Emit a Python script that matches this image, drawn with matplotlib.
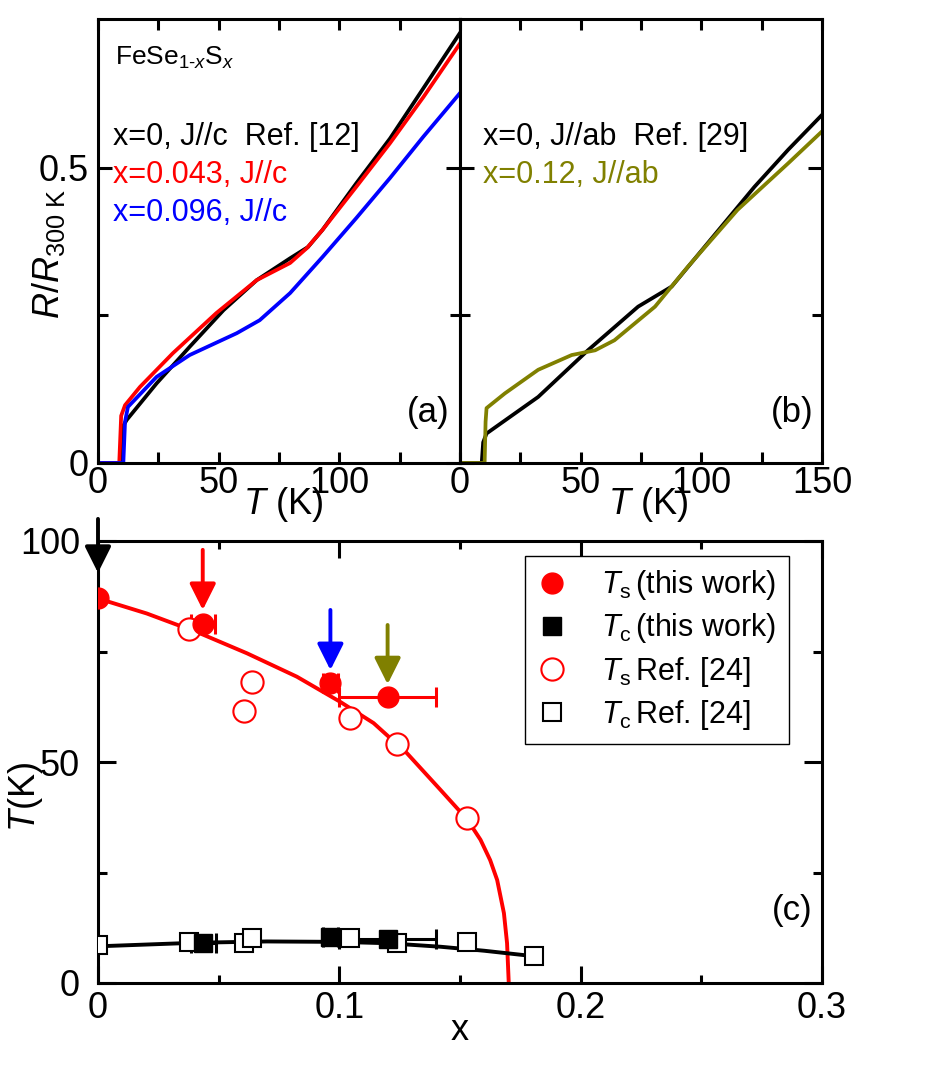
import matplotlib
matplotlib.use('Agg')
import matplotlib.pyplot as plt
from matplotlib.ticker import FixedLocator, FixedFormatter

plt.rcParams['font.family'] = ['Liberation Sans', 'DejaVu Sans']
plt.rcParams['mathtext.fontset'] = 'custom'
plt.rcParams['mathtext.rm'] = 'Liberation Sans'
plt.rcParams['mathtext.it'] = 'Liberation Sans:italic'
plt.rcParams['mathtext.bf'] = 'Liberation Sans:bold'

OLIVE = '#808000'

# ---- panel (a): R/R300K, J//c
T_a0 = [1.5, 9.2, 10.0, 11.9, 24.3, 38, 52, 65.8, 79.6, 87, 93, 107, 121, 134.8, 150]
R_a0 = [0, 0, 0.06, 0.073, 0.135, 0.197, 0.259, 0.310, 0.347, 0.366, 0.395, 0.474, 0.55, 0.635, 0.729]
T_a043 = [1.5, 8.8, 9.6, 11.2, 17.4, 31, 49, 65.8, 79.6, 86.5, 93, 107, 121, 134.8, 150]
R_a043 = [0, 0, 0.08, 0.098, 0.129, 0.186, 0.254, 0.310, 0.339, 0.364, 0.395, 0.468, 0.542, 0.62, 0.711]
T_a096 = [1.5, 10.5, 11.2, 12.4, 24.3, 38, 57.5, 67, 79.6, 93, 107, 121, 134.8, 150]
R_a096 = [0, 0, 0.07, 0.095, 0.146, 0.183, 0.22, 0.242, 0.288, 0.349, 0.415, 0.483, 0.553, 0.627]

# ---- panel (b): J//ab
T_b0 = [1.5, 9.0, 9.6, 11, 32.4, 53, 73.8, 87.7, 101.5, 122, 136, 150]
R_b0 = [0, 0, 0.035, 0.05, 0.112, 0.191, 0.265, 0.299, 0.367, 0.468, 0.531, 0.59]
T_b12 = [1.5, 10.2, 10.6, 11, 18.6, 32.4, 46.3, 56, 64, 80.8, 94.5, 115, 136, 150]
R_b12 = [0, 0, 0.07, 0.093, 0.118, 0.158, 0.183, 0.191, 0.208, 0.265, 0.333, 0.429, 0.508, 0.562]

# ---- panel (c): phase diagram
x_ts = [0, 0.0434, 0.0963, 0.12]
ts = [87, 81.2, 67.8, 64.6]
ts_xerr = [0, 0.005, 0.003, 0.02]
x_tc = [0.0437, 0.0963, 0.12]
tc = [9.1, 10.3, 9.9]
tc_xerr = [0.005, 0.003, 0.02]
x_ts_ref = [0.0378, 0.0607, 0.064, 0.1046, 0.124, 0.153]
ts_ref = [80.2, 61.6, 68, 59.9, 54.1, 37.3]
x_tc_ref = [0, 0.0378, 0.0607, 0.064, 0.1046, 0.124, 0.153, 0.1806]
tc_ref = [8.6, 9.35, 9.1, 10.1, 10.1, 9.0, 9.35, 6.1]
fit_ts_x = [0, 0.0202, 0.0423, 0.0617, 0.0824, 0.1004, 0.1142, 0.128, 0.1419, 0.153,
            0.1585, 0.1625, 0.1654, 0.1682, 0.1695, 0.1702]
fit_ts_T = [87, 83.6, 79.1, 74.6, 69.3, 63.6, 58.8, 52, 43.7, 37,
            32.4, 27.8, 23.3, 15.8, 9.0, 0]
fit_tc_x = [0, 0.04, 0.07, 0.1, 0.12, 0.142, 0.16, 0.18]
fit_tc_T = [8.3, 9.1, 9.4, 9.3, 9.0, 8.2, 7.3, 6.1]
arrow_x = [0, 0.0434, 0.0963, 0.12]
arrow_top = [105, 98, 84.4, 81]
arrow_tip = [92.8, 84.4, 70.8, 67.6]
arrow_col = ['black', 'red', 'blue', OLIVE]


def style_axes(ax, xpad, ypad, xlen, ylen):
    for s in ax.spines.values():
        s.set_linewidth(2.2)
    ax.tick_params(which='both', direction='in', top=True, right=True,
                   width=2.2, labelsize=26)
    ax.tick_params(axis='x', pad=xpad)
    ax.tick_params(axis='y', pad=ypad)
    ax.tick_params(axis='x', which='major', length=xlen[0])
    ax.tick_params(axis='x', which='minor', length=xlen[1])
    ax.tick_params(axis='y', which='major', length=ylen[0])
    ax.tick_params(axis='y', which='minor', length=ylen[1])


fig = plt.figure(figsize=(9.46, 10.65), dpi=100)
W, H = 946.0, 1065.0
axa = fig.add_axes([98 / W, 1 - 463 / H, 362 / W, 444 / H])
axb = fig.add_axes([460 / W, 1 - 463 / H, 362 / W, 444 / H])
axc = fig.add_axes([98 / W, 1 - 983 / H, 724 / W, 442 / H])

lw = 2.7
axa.plot(T_a0, R_a0, color='black', lw=lw)
axa.plot(T_a043, R_a043, color='red', lw=lw)
axa.plot(T_a096, R_a096, color='blue', lw=lw)
axb.plot(T_b0, R_b0, color='black', lw=lw)
axb.plot(T_b12, R_b12, color=OLIVE, lw=lw)

for ax in (axa, axb):
    ax.set_xlim(0, 150)
    ax.set_ylim(0, 0.7525)
    ax.xaxis.set_major_locator(FixedLocator([0, 50, 100, 150]))
    ax.xaxis.set_minor_locator(FixedLocator([25, 75, 125]))
    ax.yaxis.set_major_locator(FixedLocator([0, 0.5]))
    ax.yaxis.set_minor_locator(FixedLocator([0.25]))
    style_axes(ax, 2, 6.5, (8, 8), (10, 7))
    ax.set_xlabel(r'$T$ (K)', fontsize=26)

axa.xaxis.set_major_formatter(FixedFormatter(['0', '50', '100', '']))
axa.yaxis.set_major_formatter(FixedFormatter(['0', '0.5']))
axb.xaxis.set_major_formatter(FixedFormatter(['0', '50', '100', '150']))
axb.tick_params(axis='y', labelleft=False)
axa.xaxis.set_label_coords(0.51, -0.05)
axb.xaxis.set_label_coords(0.52, -0.05)
axa.set_ylabel(r'$R/R_{\mathrm{300\ K}}$', fontsize=26)
axa.yaxis.set_label_coords(-0.085, 0.47)

axa.text(0.047, 0.896, r'FeSe$_{\mathit{1\text{-}x}}$S$_{\mathit{x}}$', transform=axa.transAxes,
         fontsize=19, va='baseline')
axa.text(0.041, 0.716, 'x=0, J//c  Ref. [12]', transform=axa.transAxes, fontsize=22,
         va='baseline', color='black')
axa.text(0.041, 0.631, 'x=0.043, J//c', transform=axa.transAxes, fontsize=22,
         va='baseline', color='red')
axa.text(0.041, 0.545, 'x=0.096, J//c', transform=axa.transAxes, fontsize=22,
         va='baseline', color='blue')
axb.text(0.064, 0.716, 'x=0, J//ab  Ref. [29]', transform=axb.transAxes, fontsize=22,
         va='baseline', color='black')
axb.text(0.064, 0.631, 'x=0.12, J//ab', transform=axb.transAxes, fontsize=22,
         va='baseline', color=OLIVE)
axa.text(0.912, 0.113, '(a)', transform=axa.transAxes, fontsize=25, ha='center', va='center')
axb.text(0.917, 0.113, '(b)', transform=axb.transAxes, fontsize=25, ha='center', va='center')

# ---- panel (c)
axc.plot(fit_ts_x, fit_ts_T, color='red', lw=2.8, zorder=2)
axc.plot(fit_tc_x, fit_tc_T, color='black', lw=2.8, zorder=2)
axc.errorbar(x_ts, ts, xerr=ts_xerr, fmt='none', ecolor='red', elinewidth=2.2,
             capsize=7, capthick=2.2, zorder=3)
axc.errorbar(x_tc, tc, xerr=tc_xerr, fmt='none', ecolor='black', elinewidth=2.2,
             capsize=7, capthick=2.2, zorder=3)
axc.plot(x_ts, ts, 'o', color='red', ms=15, zorder=5, label=r'$T_{\mathrm{s}}\,$(this work)')
axc.plot(x_tc, tc, 's', color='black', ms=13, zorder=5, label=r'$T_{\mathrm{c}}\,$(this work)')
axc.plot(x_ts_ref, ts_ref, 'o', mfc='white', mec='red', mew=1.5, ms=16, zorder=4,
         label=r'$T_{\mathrm{s}}\,$Ref. [24]')
axc.plot(x_tc_ref, tc_ref, 's', mfc='white', mec='black', mew=1.5, ms=13, zorder=4,
         label=r'$T_{\mathrm{c}}\,$Ref. [24]')

for xa, t0, t1, c in zip(arrow_x, arrow_top, arrow_tip, arrow_col):
    axc.annotate('', xy=(xa, t1), xytext=(xa, t0),
                 arrowprops=dict(arrowstyle='-|>,head_length=0.8,head_width=0.4',
                                 color=c, lw=2.8, mutation_scale=20, shrinkA=0, shrinkB=0),
                 zorder=6)

axc.set_xlim(0, 0.3)
axc.set_ylim(0, 100)
axc.xaxis.set_major_locator(FixedLocator([0, 0.1, 0.2, 0.3]))
axc.xaxis.set_minor_locator(FixedLocator([0.05, 0.15, 0.25]))
axc.yaxis.set_major_locator(FixedLocator([0, 50, 100]))
axc.yaxis.set_minor_locator(FixedLocator([25, 75]))
axc.xaxis.set_major_formatter(FixedFormatter(['0', '0.1', '0.2', '0.3']))
axc.yaxis.set_major_formatter(FixedFormatter(['0', '50', '100']))
style_axes(axc, 6, 13, (12.5, 6), (13, 6.5))
axc.set_xlabel('x', fontsize=26)
axc.xaxis.set_label_coords(0.5, -0.068)
axc.set_ylabel(r'$T$(K)', fontsize=26)
axc.yaxis.set_label_coords(-0.073, 0.42)
axc.text(0.959, 0.163, '(c)', transform=axc.transAxes, fontsize=25, ha='center', va='center')

leg = axc.legend(loc='upper right', bbox_to_anchor=(0.954, 0.966), fontsize=22,
                 frameon=True, fancybox=False, framealpha=1, edgecolor='black',
                 borderaxespad=0, handlelength=1.0, handletextpad=1.1,
                 labelspacing=0.3, borderpad=0.4, numpoints=1)
leg.get_frame().set_linewidth(1.0)

fig.savefig('out.png', dpi=100)
